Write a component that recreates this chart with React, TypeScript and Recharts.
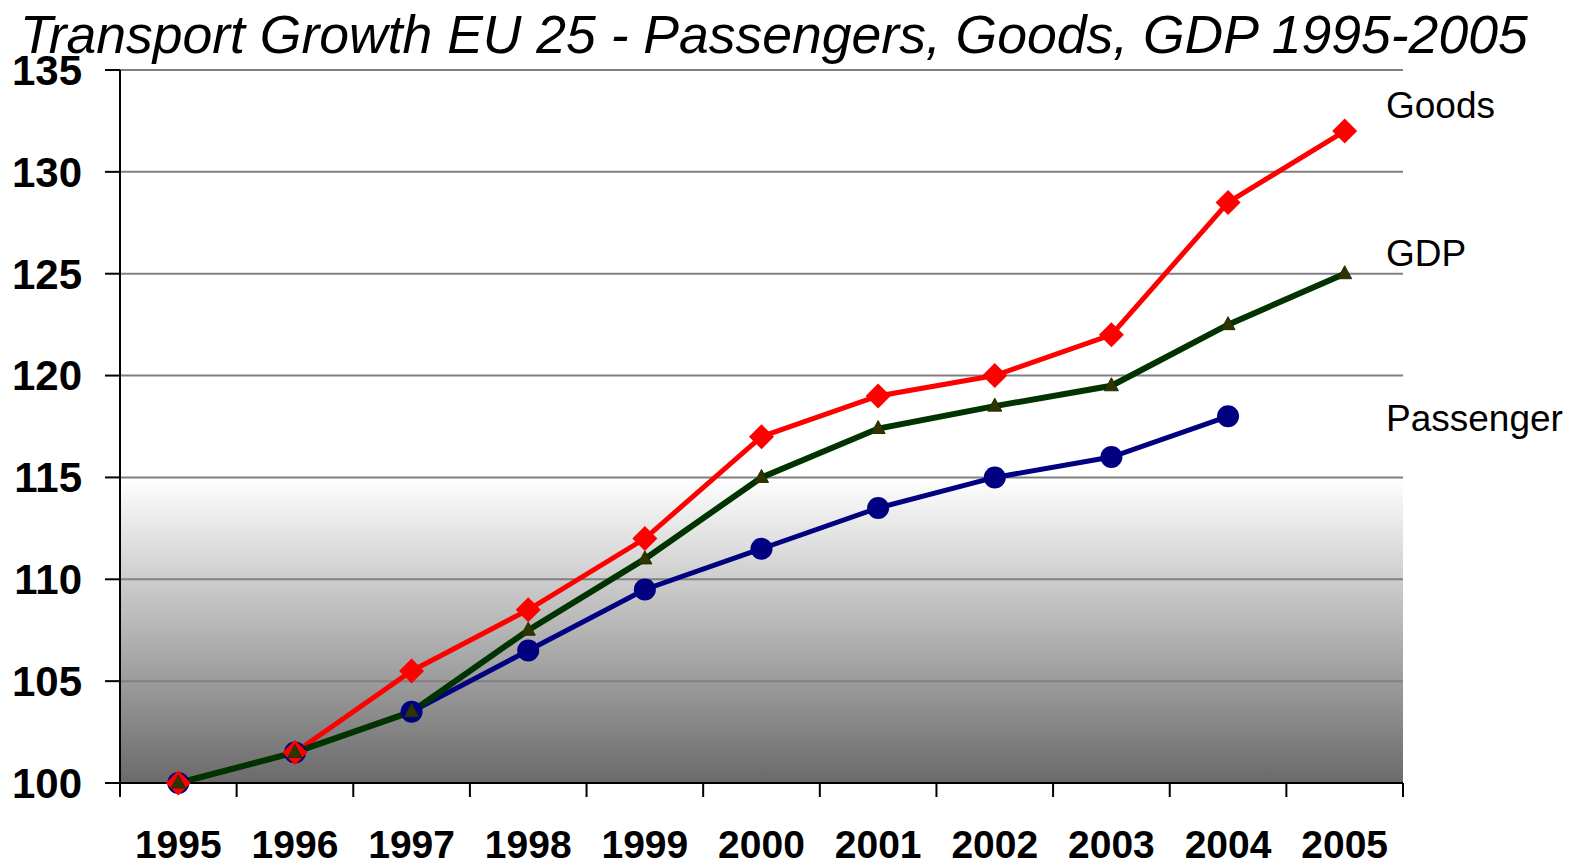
import { LineChart, Line, XAxis, YAxis, CartesianGrid } from "recharts";

const years = ["1995", "1996", "1997", "1998", "1999", "2000", "2001", "2002", "2003", "2004", "2005"];
const goods = [100, 101.5, 105.5, 108.5, 112, 117, 119, 120, 122, 128.5, 132];
const gdp = [100, 101.5, 103.5, 107.5, 111, 115, 117.4, 118.5, 119.5, 122.5, 125];
const passenger = [100, 101.5, 103.5, 106.5, 109.5, 111.5, 113.5, 115, 116, 118, null];
const yTicks = [100, 105, 110, 115, 120, 125, 130, 135];

const data = years.map((year, i) => ({
  year,
  goods: goods[i],
  gdp: gdp[i],
  passenger: passenger[i],
}));

const W = 1574;
const H = 865;
const margin = { top: 70, right: 171, left: 10, bottom: 0 };
const yAxisW = 110;
const plotW = W - margin.left - margin.right - yAxisW;
const step = plotW / years.length;
const font = "'Liberation Sans', Arial, sans-serif";

// x ticks: label in the middle, tick marks at the category borders
const XTick = (props: any) => {
  const { x, y, payload, index } = props;
  const last = index === years.length - 1;
  return (
    <g>
      <line x1={x - step / 2} x2={x - step / 2} y1={y} y2={y + 14} stroke="#000" strokeWidth={2} />
      {last && <line x1={x + step / 2} x2={x + step / 2} y1={y} y2={y + 14} stroke="#000" strokeWidth={2} />}
      <text x={x} y={y + 75} textAnchor="middle" fontSize={39} fontWeight="bold" fontFamily={font} fill="#000">
        {payload.value}
      </text>
    </g>
  );
};

const Diamond = (p: any) => {
  const { cx, cy, index } = p;
  if (cx == null || cy == null) return <g key={index} />;
  const r = 12.5;
  return (
    <path
      key={index}
      d={`M${cx},${cy - r}L${cx + r},${cy}L${cx},${cy + r}L${cx - r},${cy}Z`}
      fill="#ff0000"
    />
  );
};

const Dot = (p: any) => {
  const { cx, cy, index } = p;
  if (cx == null || cy == null) return <g key={index} />;
  return <circle key={index} cx={cx} cy={cy} r={11} fill="#000080" />;
};

const Tri = (p: any) => {
  const { cx, cy, index } = p;
  if (cx == null || cy == null) return <g key={index} />;
  return (
    <path
      key={index}
      d={`M${cx},${cy - 8}L${cx + 7},${cy + 5}L${cx - 7},${cy + 5}Z`}
      fill="#333300"
      stroke="#1a3300"
      strokeWidth={1}
    />
  );
};

const seriesLabel = (text: string, top: number) => (
  <div
    style={{
      position: "absolute",
      left: 1386,
      top,
      fontFamily: font,
      fontSize: 37,
      lineHeight: "37px",
      color: "#000",
      whiteSpace: "nowrap",
    }}
  >
    {text}
  </div>
);

export default function App() {
  return (
    <div style={{ position: "absolute", left: 0, top: 0, width: W, height: H, background: "#fff", overflow: "hidden" }}>
      <svg width={0} height={0} style={{ position: "absolute" }}>
        <defs>
          <linearGradient id="plotBg" x1="0" y1="0" x2="0" y2="1">
            <stop offset="0.571" stopColor="#ffffff" />
            <stop offset="1" stopColor="#6a6a6a" />
          </linearGradient>
        </defs>
      </svg>
      <LineChart width={W} height={H} data={data} margin={margin}>
        <CartesianGrid vertical={false} stroke="#808080" strokeWidth={2} fill="url(#plotBg)" />
        <XAxis
          dataKey="year"
          interval={0}
          height={82}
          tickLine={false}
          tickSize={0}
          tickMargin={0}
          padding={{ left: step / 2, right: step / 2 }}
          axisLine={{ stroke: "#000", strokeWidth: 2 }}
          tick={<XTick />}
        />
        <YAxis
          width={yAxisW}
          domain={[100, 135]}
          ticks={yTicks}
          interval={0}
          tickSize={15}
          tickMargin={23}
          axisLine={{ stroke: "#000", strokeWidth: 2 }}
          tickLine={{ stroke: "#000", strokeWidth: 2 }}
          tick={{ fontSize: 42, fontWeight: "bold", fontFamily: font, fill: "#000" }}
        />
        <Line dataKey="passenger" stroke="#000080" strokeWidth={5} dot={Dot} isAnimationActive={false} />
        <Line dataKey="goods" stroke="#ff0000" strokeWidth={5} dot={Diamond} isAnimationActive={false} />
        <Line dataKey="gdp" stroke="#003300" strokeWidth={6} dot={Tri} isAnimationActive={false} />
      </LineChart>
      <div
        style={{
          position: "absolute",
          left: 20,
          top: 5,
          fontFamily: font,
          fontStyle: "italic",
          fontSize: 53.5,
          lineHeight: "60px",
          color: "#000",
          whiteSpace: "nowrap",
        }}
      >
        Transport Growth EU 25 - Passengers, Goods, GDP 1995-2005
      </div>
      {seriesLabel("Goods", 87)}
      {seriesLabel("GDP", 235)}
      {seriesLabel("Passenger", 400)}
    </div>
  );
}
